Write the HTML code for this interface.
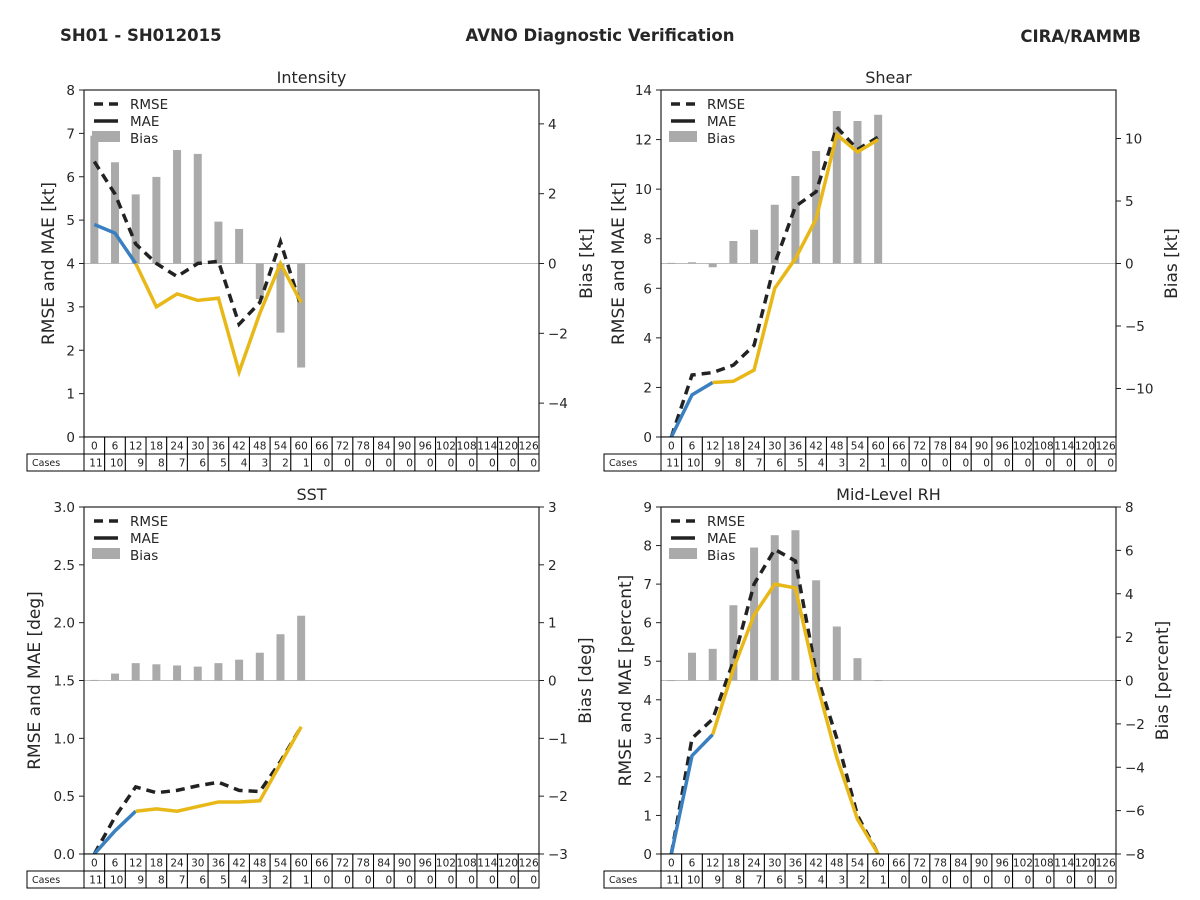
<!DOCTYPE html>
<html><head><meta charset="utf-8"><style>
body{margin:0;background:#fff;}
svg{display:block;font-family:"DejaVu Sans","Liberation Sans",sans-serif;}
</style></head><body>
<svg id="fig" width="1200" height="900" viewBox="0 0 1200 900">
<text x="60" y="41" font-size="16.5" font-weight="bold" fill="#262626">SH01 - SH012015</text>
<text x="600" y="41" font-size="16.5" font-weight="bold" fill="#262626" text-anchor="middle">AVNO Diagnostic Verification</text>
<text x="1141" y="42" font-size="16.5" font-weight="bold" fill="#262626" text-anchor="end">CIRA/RAMMB</text>
</svg>
<script>
const hours=[0,6,12,18,24,30,36,42,48,54,60,66,72,78,84,90,96,102,108,114,120,126];
const cases=[11,10,9,8,7,6,5,4,3,2,1,0,0,0,0,0,0,0,0,0,0,0];
const intRmse=[6.35,5.6,4.45,4.0,3.7,4.0,4.05,2.6,3.1,4.5,3.0];
const intMae=[4.9,4.7,4.0,3.0,3.3,3.15,3.2,1.5,2.85,4.0,3.1];
const intBias=[3.66,2.9,1.98,2.48,3.25,3.14,1.2,0.99,-1.02,-1.98,-2.98];
const shrRmse=[0,2.5,2.6,2.9,3.7,7.0,9.3,9.9,12.5,11.6,12.1];
const shrMae=[0,1.7,2.2,2.25,2.7,6.0,7.2,8.8,12.2,11.5,12.0];
const shrBias=[0.05,0.1,-0.3,1.8,2.7,4.7,7.0,9.0,12.2,11.4,11.9];
const sstRmse=[0,0.32,0.58,0.53,0.55,0.59,0.62,0.55,0.54,0.8,1.1];
const sstMae=[0,0.2,0.37,0.39,0.37,0.41,0.45,0.45,0.46,0.78,1.1];
const sstBias=[0.01,0.12,0.3,0.28,0.26,0.24,0.3,0.36,0.48,0.8,1.12];
const rhRmse=[0,3.0,3.5,5.0,7.0,7.9,7.6,4.7,3.0,1.0,0];
const rhMae=[0,2.55,3.1,4.8,6.2,7.0,6.9,4.5,2.5,0.9,0];
const rhBias=[0.02,1.28,1.46,3.47,6.13,6.7,6.93,4.62,2.49,1.03,0.02];

const NS='http://www.w3.org/2000/svg';
const svg=document.getElementById('fig');
function mk(tag,attrs,parent,text){const e=document.createElementNS(NS,tag);for(const k in attrs)e.setAttribute(k,attrs[k]);if(text!==undefined)e.textContent=text;(parent||svg).appendChild(e);return e;}

function panel(cfg){
  const g=mk('g',{});
  
  
  const L=cfg.x0,R=cfg.x0+455,T=cfg.y0,B=cfg.y0+347;
  const cw=455/hours.length;
  const xs=i=>L+(i+0.5)*cw;
  const yl=v=>B-(v-cfg.lmin)/(cfg.lmax-cfg.lmin)*(B-T);
  const yr=v=>B-(v-cfg.rmin)/(cfg.rmax-cfg.rmin)*(B-T);
  const z=mk('line',{x1:L,x2:R,y1:yr(0),y2:yr(0),stroke:'#bbb','stroke-width':1},g);
  
  
  cfg.bias.forEach((b,i)=>{
    const y0=yr(0),y1=yr(b);
    const r=mk('rect',{x:xs(i)-4,y:Math.min(y0,y1),width:8,height:Math.max(Math.abs(y1-y0),1),fill:'#aaa'},g);
    
    
  });
  const rp=cfg.rmse.map((v,i)=>xs(i)+','+yl(v)).join(' ');
  const rl=mk('polyline',{points:rp,fill:'none',stroke:'#222','stroke-width':3.5,'stroke-dasharray':'9,6'},g);
  
  
  const mb=cfg.mae.slice(0,3).map((v,i)=>xs(i)+','+yl(v)).join(' ');
  const my=cfg.mae.map((v,i)=>i>=2?xs(i)+','+yl(v):null).filter(p=>p).join(' ');
  const l1=mk('polyline',{points:mb,fill:'none',stroke:'#3a80c0','stroke-width':3.5},g);
  
  
  const l2=mk('polyline',{points:my,fill:'none',stroke:'#e8b818','stroke-width':3.5},g);
  
  
  const f=mk('rect',{x:L,y:T,width:455,height:347,fill:'none',stroke:'#222','stroke-width':1.2},g);
  
  
  cfg.lticks.forEach(t=>{
    const y=yl(t);
    mk('line',{x1:L-5,x2:L,y1:y,y2:y,stroke:'#222'},g);
    const tx=mk('text',{x:L-9,y:y+5,'font-size':13.5,'text-anchor':'end',fill:'#262626'},g,cfg.lfmt(t));
    
    
  });
  cfg.rticks.forEach(t=>{
    const y=yr(t);
    mk('line',{x1:R,x2:R+5,y1:y,y2:y,stroke:'#222'},g);
    const tx=mk('text',{x:R+9,y:y+5,'font-size':13.5,fill:'#262626'},g,t<0?'\u2212'+(-t):String(t));
    
    
  });
  const tt=mk('text',{x:(L+R)/2,y:T-7,'font-size':16,'text-anchor':'middle',fill:'#262626'},g,cfg.title);
  
  
  const ly=(T+B)/2;
  const la=mk('text',{x:0,y:0,'font-size':17,'text-anchor':'middle',fill:'#262626',transform:`translate(${cfg.lx},${ly}) rotate(-90)`},g,cfg.ylab);
  
  
  const ra=mk('text',{x:0,y:0,'font-size':17,'text-anchor':'middle',fill:'#262626',transform:`translate(${cfg.rx},${ly}) rotate(-90)`},g,cfg.rlab);
  
  
  const lg=mk('g',{},g);
  
  
  const lx=L+8,l0=T+14;
  mk('line',{x1:lx+2,x2:lx+26,y1:l0,y2:l0,stroke:'#222','stroke-width':3.5,'stroke-dasharray':'9,6'},lg);
  mk('text',{x:lx+38,y:l0+5,'font-size':13.5,fill:'#262626'},lg,'RMSE');
  mk('line',{x1:lx+2,x2:lx+26,y1:l0+17,y2:l0+17,stroke:'#222','stroke-width':3.5},lg);
  mk('text',{x:lx+38,y:l0+22,'font-size':13.5,fill:'#262626'},lg,'MAE');
  mk('rect',{x:lx,y:l0+27,width:28,height:11,fill:'#aaa'},lg);
  mk('text',{x:lx+38,y:l0+39,'font-size':13.5,fill:'#262626'},lg,'Bias');
  const tb=mk('g',{},g);
  
  
  hours.forEach((h,i)=>{
    const cx=L+i*cw;
    mk('rect',{x:cx,y:B,width:cw,height:17,fill:'#fff',stroke:'#000','stroke-width':1},tb);
    mk('text',{x:cx+cw/2,y:B+12.5,'font-size':10.5,'text-anchor':'middle',fill:'#222'},tb,String(h));
    mk('rect',{x:cx,y:B+17,width:cw,height:17,fill:'#fff',stroke:'#000','stroke-width':1},tb);
    mk('text',{x:cx+cw-2,y:B+29.5,'font-size':10.5,'text-anchor':'end',fill:'#222'},tb,String(cases[i]));
  });
  mk('rect',{x:L-57,y:B+17,width:57,height:17,fill:'#fff',stroke:'#000','stroke-width':1},tb);
  mk('text',{x:L-52,y:B+29,'font-size':9.5,fill:'#222'},tb,'Cases');
}
panel({name:'intensity',x0:84,y0:90,title:'Intensity',rmse:intRmse,mae:intMae,bias:intBias,lmin:0,lmax:8,rmin:-4.97,rmax:4.97,lticks:[0,1,2,3,4,5,6,7,8],rticks:[-4,-2,0,2,4],lfmt:v=>String(v),ylab:'RMSE and MAE [kt]',rlab:'Bias [kt]',lx:54,rx:592});
panel({name:'shear',x0:661,y0:90,title:'Shear',rmse:shrRmse,mae:shrMae,bias:shrBias,lmin:0,lmax:14,rmin:-13.88,rmax:13.88,lticks:[0,2,4,6,8,10,12,14],rticks:[-10,-5,0,5,10],lfmt:v=>String(v),ylab:'RMSE and MAE [kt]',rlab:'Bias [kt]',lx:624,rx:1177});
panel({name:'sst',x0:84,y0:507,title:'SST',rmse:sstRmse,mae:sstMae,bias:sstBias,lmin:0,lmax:3,rmin:-3,rmax:3,lticks:[0,0.5,1,1.5,2,2.5,3],rticks:[-3,-2,-1,0,1,2,3],lfmt:v=>v.toFixed(1),ylab:'RMSE and MAE [deg]',rlab:'Bias [deg]',lx:40,rx:591});
panel({name:'mid-level-rh',x0:661,y0:507,title:'Mid-Level RH',rmse:rhRmse,mae:rhMae,bias:rhBias,lmin:0,lmax:9,rmin:-8,rmax:8,lticks:[0,1,2,3,4,5,6,7,8,9],rticks:[-8,-6,-4,-2,0,2,4,6,8],lfmt:v=>String(v),ylab:'RMSE and MAE [percent]',rlab:'Bias [percent]',lx:631,rx:1168});
</script>
</body></html>
